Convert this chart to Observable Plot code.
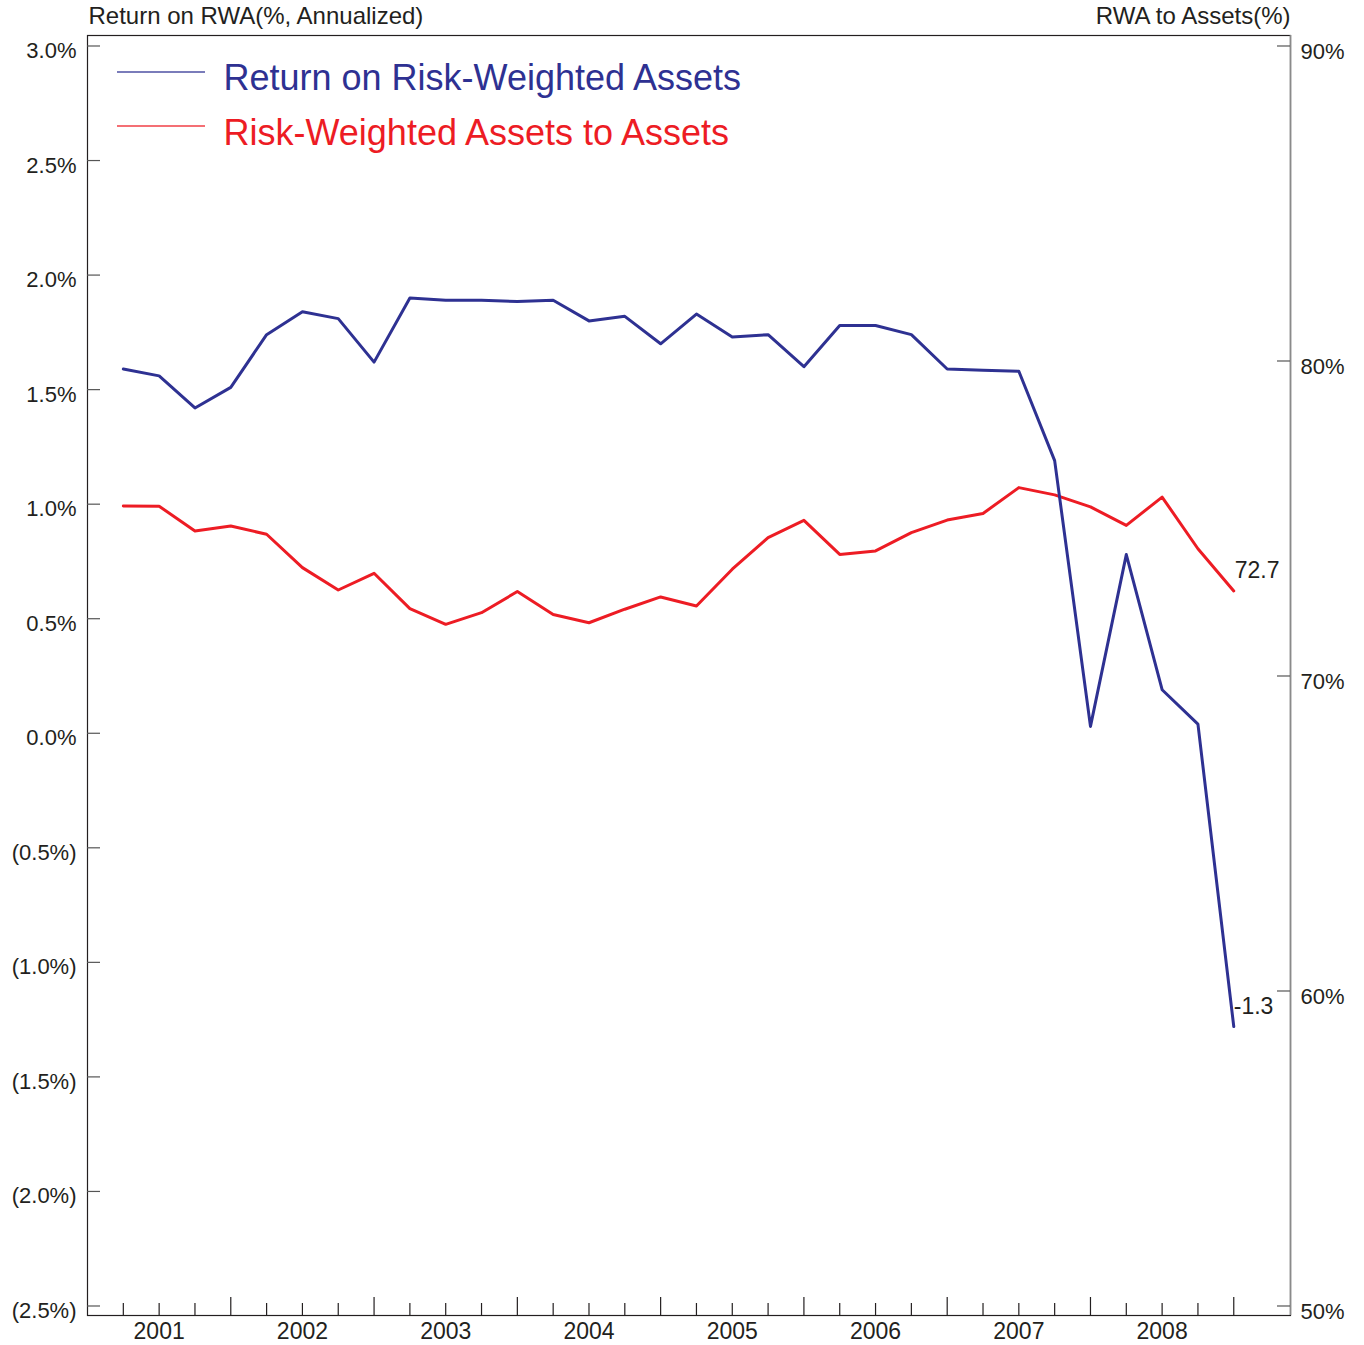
<!DOCTYPE html>
<html><head><meta charset="utf-8">
<script src="https://cdn.jsdelivr.net/npm/d3@7"></script>
<script src="https://cdn.jsdelivr.net/npm/@observablehq/plot@0.6"></script>
<style>body{margin:0;background:#fff;} svg{display:block;}</style>
</head><body><div id="chart"></div>
<script>
const quarters = ["2001Q1","2001Q2","2001Q3","2001Q4","2002Q1","2002Q2","2002Q3","2002Q4",
  "2003Q1","2003Q2","2003Q3","2003Q4","2004Q1","2004Q2","2004Q3","2004Q4",
  "2005Q1","2005Q2","2005Q3","2005Q4","2006Q1","2006Q2","2006Q3","2006Q4",
  "2007Q1","2007Q2","2007Q3","2007Q4","2008Q1","2008Q2","2008Q3","2008Q4"];
const returnOnRWA = [1.59,1.56,1.42,1.51,1.74,1.84,1.81,1.62,1.90,1.89,1.89,1.885,1.89,1.80,1.82,1.70,
  1.83,1.73,1.74,1.60,1.78,1.78,1.74,1.59,1.585,1.58,1.19,0.03,0.78,0.19,0.04,-1.28];
const rwaToAssets = [75.40,75.39,74.60,74.76,74.50,73.44,72.73,73.26,72.14,71.64,72.01,72.68,71.95,71.69,72.12,72.51,
  72.22,73.39,74.39,74.94,73.86,73.97,74.55,74.95,75.16,75.98,75.75,75.37,74.78,75.68,74.04,72.70];
const leftTicks = [3.0,2.5,2.0,1.5,1.0,0.5,0.0,-0.5,-1.0,-1.5,-2.0,-2.5];
const rightTicks = [90,80,70,60,50];
const years = [2001,2002,2003,2004,2005,2006,2007,2008];
const seriesNames = ["Return on Risk-Weighted Assets","Risk-Weighted Assets to Assets"];
const axisTitles = ["Return on RWA(%, Annualized)","RWA to Assets(%)"];

const BLUE = "#2e3192", RED = "#ed1c24", INK = "#231f20";
const toLeft = v => 3.0 - (90 - v) * (5.5 / 40);
const qx = q => +q.slice(0, 4) + (+q.slice(5)) / 4;
const rows = quarters.map((q, i) => ({q, x: qx(q), r: returnOnRWA[i], rwa: rwaToAssets[i], a: toLeft(rwaToAssets[i])}));
const last = rows[rows.length - 1];
const qTicks = quarters.map(qx);
const minorTicks = qTicks.filter(t => t % 1 !== 0);
const majorTicks = qTicks.filter(t => t % 1 === 0);
const fmtL = d => d < 0 ? `(${Math.abs(d).toFixed(1)}%)` : `${d.toFixed(1)}%`;

const W = 1364, H = 1345, mL = 87, mR = 74, mT = 35, mB = 30;
const frameW = W - mL - mR, frameH = H - mT - mB;
const xDomain = [2001, 2009.396];
const yDomain = [-2.5415, 3.0458];

const svg = Plot.plot({
  width: W, height: H, marginLeft: mL, marginRight: mR, marginTop: mT, marginBottom: mB,
  style: {fontFamily: "'Liberation Sans', Arial, sans-serif", fontSize: "22px", color: INK, background: "#fff"},
  x: {domain: xDomain, axis: null},
  y: {domain: yDomain, axis: null},
  marks: [
    Plot.frame({stroke: INK, strokeWidth: 1.2}),
    Plot.ruleX([xDomain[1]], {stroke: "#8a8a8a", strokeWidth: 1.6}),
    Plot.tickY(leftTicks, {y: d => d, insetRight: frameW - 13, stroke: "#555", strokeWidth: 1.2}),
    Plot.tickY(rightTicks, {y: d => toLeft(d), insetLeft: frameW - 13, stroke: "#555", strokeWidth: 1.2}),
    Plot.tickX(minorTicks, {x: d => d, insetTop: frameH - 12, stroke: INK, strokeWidth: 1.2}),
    Plot.tickX(majorTicks, {x: d => d, insetTop: frameH - 18, stroke: INK, strokeWidth: 1.2}),
    Plot.text(leftTicks, {y: d => d, text: fmtL, frameAnchor: "left", textAnchor: "end", lineAnchor: "middle", dx: -11, dy: 5, fill: INK, fontSize: 22}),
    Plot.text(rightTicks, {y: d => toLeft(d), text: d => d + "%", frameAnchor: "right", textAnchor: "start", lineAnchor: "middle", dx: 10, dy: 6, fill: INK, fontSize: 22}),
    Plot.text(years, {x: d => d + 0.5, text: d => String(d), frameAnchor: "bottom", lineAnchor: "middle", dy: 16, fill: INK, fontSize: 23}),
    Plot.text([axisTitles[0]], {text: d => d, frameAnchor: "top-left", textAnchor: "start", lineAnchor: "middle", dx: 1, dy: -19, fill: INK, fontSize: 24}),
    Plot.text([axisTitles[1]], {text: d => d, frameAnchor: "top-right", textAnchor: "end", lineAnchor: "middle", dx: 0, dy: -19, fill: INK, fontSize: 24}),
    Plot.line(rows, {x: "x", y: "a", stroke: RED, strokeWidth: 3}),
    Plot.line(rows, {x: "x", y: "r", stroke: BLUE, strokeWidth: 3}),
    Plot.text([last], {x: "x", y: "a", text: d => d.rwa.toFixed(1), textAnchor: "start", lineAnchor: "middle", dx: 1, dy: -20, fill: INK, fontSize: 23}),
    Plot.text([last], {x: "x", y: "r", text: d => d.r.toFixed(1), textAnchor: "start", lineAnchor: "middle", dx: 0, dy: -20, fill: INK, fontSize: 23}),
    Plot.text([seriesNames[0]], {text: d => d, frameAnchor: "top-left", textAnchor: "start", lineAnchor: "middle", dx: 136, dy: 43, fill: BLUE, fontSize: 36}),
    Plot.text([seriesNames[1]], {text: d => d, frameAnchor: "top-left", textAnchor: "start", lineAnchor: "middle", dx: 136, dy: 98, fill: RED, fontSize: 36})
  ]
});

const g = d3.select(svg).append("g").attr("class", "legend-swatches");
[[BLUE, 72], [RED, 126]].forEach(([c, y]) => {
  g.append("line").attr("x1", 117).attr("x2", 205).attr("y1", y).attr("y2", y)
    .attr("stroke", c).attr("stroke-width", 1.6).attr("stroke-opacity", 0.85);
});
document.getElementById("chart").appendChild(svg);
</script>
</body></html>
